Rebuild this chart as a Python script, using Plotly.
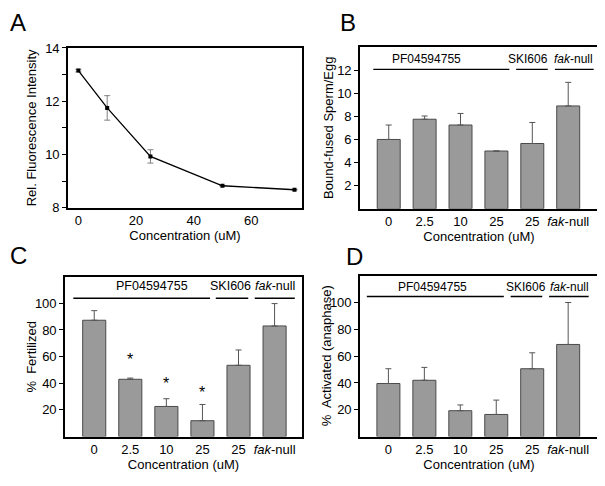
import plotly.graph_objects as go

# ---- data ----
conc_a = [0, 10, 25, 50, 75]
fluor_a = [13.15, 11.75, 9.93, 8.83, 8.68]
fluor_err = [0.05, 0.46, 0.25, 0.0, 0.0]

cat_labels = ["0", "2.5", "10", "25", "25", "<i>fak</i>-null"]
cat_pos = [0, 1, 2, 3, 4, 5]

bound_b = [6.0, 7.75, 7.25, 5.0, 5.65, 8.9]
bound_err = [1.25, 0.28, 1.0, 0.0, 1.82, 2.04]

fert_c = [87.3, 43.0, 22.6, 11.9, 53.5, 83.0]
fert_err = [7.2, 0.9, 5.8, 12.2, 11.5, 16.8]
star_pos = [1, 2, 3]
star_y = [57.5, 39.5, 33.0]

act_d = [39.6, 42.0, 19.3, 16.5, 50.6, 68.7]
act_err = [11.0, 9.6, 4.3, 10.7, 11.9, 31.3]

groups = ["PF04594755", "SKI606", "<i>fak</i>-null"]
# per panel: line spans, label centres, line y, label y, font size
group_layout = {
    "2": dict(spans=[(-0.43, 3.36), (3.55, 4.43), (4.63, 5.71)],
              centers=[1.04, 3.89, 5.14], ly=12.06, ty=13.0, fs=12),
    "3": dict(spans=[(-0.58, 3.21), (3.37, 4.27), (4.45, 5.56)],
              centers=[1.6, 3.78, 5.01], ly=103.8, ty=112.7, fs=12.5),
    "4": dict(spans=[(-0.6, 3.21), (3.4, 4.28), (4.47, 5.57)],
              centers=[1.22, 3.84, 5.05], ly=104.5, ty=111.5, fs=12),
}

FONT = "Liberation Sans, Arial, sans-serif"
BAR_COLOR = "#9a9a9a"
BAR_LINE = "#4a4a4a"
W, H, OFF = 605, 486, 8  # page body offset compensation


def dx(p0, p1):
    return [(p0 - OFF) / W, (p1 - OFF) / W]


def dy(top, bottom):
    return [1 - (bottom - OFF) / H, 1 - (top - OFF) / H]


fig = go.Figure()

# Panel A
fig.add_trace(go.Scatter(
    x=conc_a, y=fluor_a, mode="lines+markers",
    line=dict(color="black", width=1.3),
    marker=dict(symbol="square", size=4, color="black"),
    error_y=dict(type="data", array=fluor_err, color="#808080", thickness=1, width=3),
    xaxis="x", yaxis="y", showlegend=False))


def bars(vals, errs, xa, ya):
    fig.add_trace(go.Bar(
        x=cat_pos, y=vals, width=0.64,
        marker=dict(color=BAR_COLOR, line=dict(color=BAR_LINE, width=1)),
        error_y=dict(type="data", symmetric=False, array=errs,
                     arrayminus=[0] * len(errs), color="#555555", thickness=1, width=3),
        xaxis=xa, yaxis=ya, showlegend=False))


bars(bound_b, bound_err, "x2", "y2")
bars(fert_c, fert_err, "x3", "y3")
bars(act_d, act_err, "x4", "y4")

axis_common = dict(showline=True, linecolor="black", linewidth=1.6, mirror=True,
                   showgrid=False, zeroline=False, ticks="outside", ticklen=4,
                   tickcolor="black", tickfont=dict(size=13, color="black"))


def cat_x(domain, anchor, rng):
    return dict(axis_common, domain=domain, anchor=anchor, range=rng,
                tickvals=cat_pos, ticktext=cat_labels, ticks="", ticklen=0,
                title=dict(text="Concentration (uM)", font=dict(size=13), standoff=0))


dom_b = dy(41, 208)
dom_c = dy(278, 443)
dom_d = dy(277, 443)

fig.update_layout(
    width=W, height=H,
    margin=dict(l=0, r=0, t=0, b=0),
    paper_bgcolor="white", plot_bgcolor="white",
    font=dict(family=FONT, color="black", size=13),
    xaxis=dict(axis_common, domain=dx(68, 302), anchor="y", range=[-3.6, 77.6],
               tickvals=[0, 20, 40, 60], ticks="", ticklen=0,
               title=dict(text="Concentration (uM)", font=dict(size=13), standoff=1)),
    yaxis=dict(axis_common, domain=dy(42, 207), anchor="x", range=[8, 14],
               tickvals=[8, 10, 12, 14], ticklen=4,
               minor=dict(ticks="outside", ticklen=4, tickcolor="black", dtick=1),
               title=dict(text="Rel. Fluorescence Intensity", font=dict(size=13), standoff=6)),
    xaxis2=cat_x(dx(360, 598), "y2", [-0.8, 5.83]),
    yaxis2=dict(axis_common, domain=dom_b, anchor="x2", range=[0, 14],
                tickvals=[2, 4, 6, 8, 10, 12]),
    xaxis3=cat_x(dx(65, 302), "y3", [-0.81, 5.76]),
    yaxis3=dict(axis_common, domain=dom_c, anchor="x3", range=[0, 120],
                tickvals=[20, 40, 60, 80, 100]),
    xaxis4=cat_x(dx(360, 598), "y4", [-0.79, 5.83]),
    yaxis4=dict(axis_common, domain=dom_d, anchor="x4", range=[0, 120],
                tickvals=[20, 40, 60, 80, 100]),
)

shapes = []
annotations = []
for ax, g in group_layout.items():
    for name, (x0, x1), xc in zip(groups, g["spans"], g["centers"]):
        shapes.append(dict(type="line", xref="x" + ax, yref="y" + ax,
                           x0=x0, x1=x1, y0=g["ly"], y1=g["ly"],
                           line=dict(color="black", width=1.3)))
        annotations.append(dict(x=xc, y=g["ty"], xref="x" + ax, yref="y" + ax,
                                text=name, showarrow=False,
                                font=dict(size=g["fs"], color="black")))

for xs, ys in zip(star_pos, star_y):
    annotations.append(dict(x=xs, y=ys, xref="x3", yref="y3", text="*",
                            showarrow=False, font=dict(size=16, color="black")))

# y-axis titles of bar panels (page x centre, axis domain)
for text, px, dom in [("Bound-fused Sperm/Egg", 329, dom_b),
                      ("%  Fertilized", 32, dom_c),
                      ("%  Activated (anaphase)", 326, dom_d)]:
    annotations.append(dict(x=(px - OFF) / W, y=(dom[0] + dom[1]) / 2,
                            xref="paper", yref="paper", text=text, textangle=-90,
                            showarrow=False, xanchor="center", yanchor="middle",
                            font=dict(size=13, color="black")))

# panel letters (left edge, centre y in page pixels)
for letter, px, py in [("A", 8, 16), ("B", 338, 16), ("C", 8, 256), ("D", 344, 257)]:
    annotations.append(dict(x=(px - OFF) / W, y=1 - (py - OFF) / H, xref="paper", yref="paper",
                            text=letter, showarrow=False, xanchor="left", yanchor="middle",
                            font=dict(size=24, color="black")))

fig.update_layout(shapes=shapes, annotations=annotations)
fig.write_html("out.html")
